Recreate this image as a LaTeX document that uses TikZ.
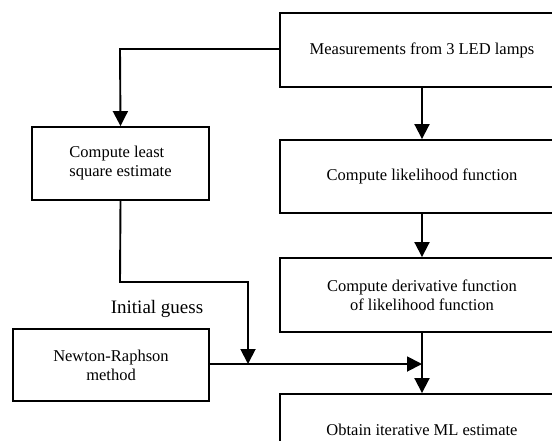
\documentclass[tikz,border=0pt]{standalone}
\usepackage{fontspec}
\setmainfont{Liberation Serif}
\usetikzlibrary{arrows.meta}
\tikzset{
  box/.style={draw, line width=1.9pt, inner sep=0pt, align=center, font=\fontsize{16.5}{19}\selectfont},
  flow/.style={line width=1.9pt, -{Triangle[width=15pt,length=15pt]}},
  plain/.style={line width=1.9pt}
}
\begin{document}
\begin{tikzpicture}[x=1pt,y=-1pt]
\useasboundingbox (0,0) rectangle (552,440);
\clip (0,0) rectangle (552,440);
\node[box, minimum width=284pt, minimum height=74pt] (meas) at (422,50) {Measurements from 3 LED lamps};
\node[box, minimum width=284pt, minimum height=73pt] (lik) at (422,176.5) {Compute likelihood function};
\node[box, minimum width=284pt, minimum height=74pt] (der) at (422,295) {Compute derivative function\\of likelihood function};
\node[box, minimum width=284pt, minimum height=72pt] (ml) at (422,430) {Obtain iterative ML estimate};
\node[box, minimum width=177pt, minimum height=73pt, align=left] (ls) at (120.5,163.5) {Compute least\\square estimate};
\node[box, minimum width=196pt, minimum height=72pt] (nr) at (111,365) {Newton-Raphson\\method};
\node[font=\fontsize{19}{22}\selectfont] (ig) at (157,309) {Initial guess};
\coordinate (c1) at (120,49);
\coordinate (c2) at (120,282);
\coordinate (c3) at (248,282);
\coordinate (j) at (248,364);
\coordinate (k) at (422,364);
\draw[flow] (meas.west |- c1) -- (c1) -- (ls.north);
\draw[flow] (meas.south) -- (lik.north);
\draw[flow] (lik.south) -- (der.north);
\draw[flow] (der.south) -- (ml.north);
\draw[flow] (ls.south) -- (c2) -- (c3) -- (j);
\draw[flow] (nr.east |- j) -- (k);
\end{tikzpicture}
\end{document}
